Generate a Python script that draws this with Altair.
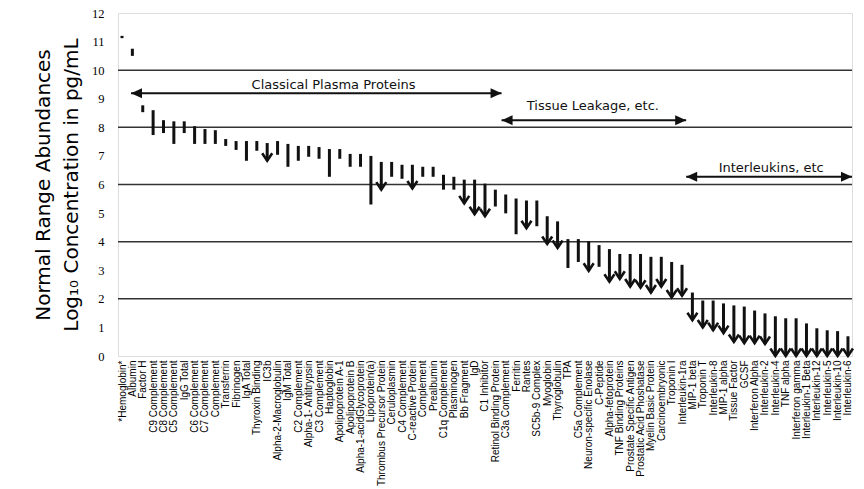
import json
import altair as alt
import pandas as pd

names = [
    "*Hemoglobin*", "Albumin", "Factor H", "C9 Complement", "C8 Complement",
    "C5 Complement", "IgG Total", "C6 Complement", "C7 Complement", "Complement",
    "Transferrin", "Fibrinogen", "IgA Total", "Thyroxin Binding", "IC3b",
    "Alpha-2-Macroglobulin", "IgM Total", "C2 Complement", "Alpha-1- Antitrypsin",
    "C3 Complement", "Haptoglobin", "Apolipoprotein A-1", "Apolipoprotein B",
    "Alpha-1-acidGlycoprotein", "Lipoprotein(a)", "Thrombus Precursor Protein",
    "Ceruloplasmin", "C4 Complement", "C-reactive Protein", "Complement",
    "Prealbumin", "C1q Complement", "Plasminogen", "Bb Fragment", "IgD",
    "C1 Inhibitor", "Retinol Binding Protein", "C3a Complement", "Ferritin",
    "Rantes", "SC5b-9 Complex", "Myoglobin", "Thyroglobulin", "TPA",
    "C5a Complement", "Neuron-specific Enolase", "C-Peptide", "Alpha-fetoprotein",
    "TNF Binding Proteins", "Prostate Specific Antigen", "Prostatic Acid Phoshatase",
    "Myelin Basic Protein", "Carcinoembryonic", "Troponin I", "Interleukin-1ra",
    "MIP-1 beta", "Troponin T", "Interleukin-8", "MIP-1 alpha", "Tissue Factor",
    "GCSF", "Interferon Alpha", "Interleukin-2", "Interleukin-4", "TNF alpha",
    "Interferon gamma", "Interleukin-1 Beta", "Interleukin-12", "Interleukin-5",
    "Interleukin-10", "Interleukin-6",
]

tops = [
    11.20, 10.75, 8.77, 8.60, 8.25, 8.21, 8.21, 8.04, 7.94, 7.90,
    7.59, 7.52, 7.52, 7.52, 7.45, 7.52, 7.42, 7.35, 7.35, 7.31,
    7.24, 7.24, 7.07, 7.07, 7.00, 6.79, 6.79, 6.69, 6.69, 6.62,
    6.62, 6.34, 6.27, 6.17, 6.17, 6.03, 5.82, 5.65, 5.51, 5.44,
    5.44, 4.89, 4.71, 4.09, 4.09, 4.02, 3.88, 3.74, 3.57, 3.57,
    3.57, 3.47, 3.47, 3.29, 3.19, 2.22, 1.94, 1.94, 1.84, 1.77,
    1.73, 1.59, 1.49, 1.39, 1.32, 1.32, 1.14, 0.97, 0.90, 0.87,
    0.69,
]

bottoms = [
    11.12, 10.50, 8.53, 7.73, 7.80, 7.42, 7.80, 7.42, 7.42, 7.42,
    7.35, 7.21, 6.83, 7.18, 6.83, 7.04, 6.62, 6.83, 6.97, 6.90,
    6.27, 6.90, 6.62, 6.62, 5.30, 5.82, 6.27, 6.20, 5.86, 6.27,
    6.27, 5.82, 5.82, 5.34, 4.96, 4.89, 5.23, 4.99, 4.26, 4.47,
    4.54, 3.92, 3.78, 3.08, 3.29, 2.98, 3.12, 2.60, 2.70, 2.43,
    2.39, 2.22, 2.43, 2.05, 2.11, 1.25, 1.00, 0.90, 0.80, 0.49,
    0.45, 0.45, 0.42, 0.00, 0.00, 0.00, 0.00, 0.00, 0.00, 0.00,
    0.00,
]

arrows = [
    0, 0, 0, 0, 0, 0, 0, 0, 0, 0,
    0, 0, 0, 0, 1, 0, 0, 0, 0, 0,
    0, 0, 0, 0, 0, 1, 0, 0, 1, 0,
    0, 0, 0, 1, 1, 1, 0, 0, 0, 1,
    0, 1, 1, 0, 0, 1, 0, 1, 1, 1,
    1, 1, 1, 1, 1, 1, 1, 1, 1, 1,
    1, 1, 1, 1, 1, 1, 1, 1, 1, 1,
    1,
]

grid_values = [2, 4, 6, 8, 10]

group_labels = ["Classical Plasma Proteins", "Tissue Leakage, etc.", "Interleukins, etc"]
group_start = [0.87, 36.6, 54.4]
group_end = [36.6, 54.4, 70.39]
group_line_y = [9.19, 8.25, 6.27]
group_text_x = [20.4, 45.4, 62.6]
group_text_y = [9.48, 8.74, 6.56]

df = pd.DataFrame({
    "idx": list(range(len(names))),
    "name": names,
    "top": tops,
    "bottom": bottoms,
    "arrow": arrows,
})
df_arrow = df[df["arrow"] == 1]
df_grid = pd.DataFrame({"g": grid_values})
df_groups = pd.DataFrame({
    "label": group_labels,
    "x0": group_start,
    "x1": group_end,
    "yl": group_line_y,
    "tx": group_text_x,
    "ty": group_text_y,
})

label_expr = "[" + ",".join(json.dumps(n) for n in names) + "][datum.value]"

x_scale = alt.Scale(domain=[-0.386, 70.39], nice=False, zero=False)
y_scale = alt.Scale(domain=[0, 12], nice=False)

x_axis = alt.Axis(
    values=list(range(len(names))), labelExpr=label_expr, labelAngle=-90,
    labelAlign="right", labelBaseline="middle",
    labelFont="Liberation Sans", labelFontSize=10, labelColor="black",
    labelPadding=4, labelOverlap=False, labelBound=False, labelFlush=False,
    ticks=False, domain=False, grid=False, title=None,
)
y_axis = alt.Axis(
    values=list(range(13)), labelFont="Liberation Serif", labelFontSize=12.5,
    labelColor="black", labelPadding=14, ticks=False, domain=False, grid=False,
    title=["Normal Range Abundances", "Log₁₀ Concentration in pg/mL"],
    titleFont="DejaVu Sans", titleFontSize=20, titleFontWeight="normal",
    titleColor="black", titlePadding=10, titleLineHeight=28,
)

def X(field):
    return alt.X(field, type="quantitative", scale=x_scale, axis=x_axis)

def Y(field):
    return alt.Y(field, type="quantitative", scale=y_scale, axis=y_axis)

grid = alt.Chart(df_grid).mark_rule(color="#333333", strokeWidth=1.5).encode(
    y=Y("g")
)

bars = alt.Chart(df).mark_rule(color="#111111", strokeWidth=3).encode(
    x=X("idx"), y=Y("top"), y2="bottom"
)

chevron = "M-1,-1.5L0,0L1,-1.5"
heads = alt.Chart(df_arrow).mark_point(
    shape=chevron, filled=False, size=100, strokeWidth=2.6,
    color="#111111", opacity=1,
).encode(x=X("idx"), y=Y("bottom"))

g_lines = alt.Chart(df_groups).mark_rule(color="#111111", strokeWidth=2).encode(
    x=X("x0"), x2="x1", y=Y("yl")
)
left_tri = alt.Chart(df_groups).mark_point(
    shape="M0,0L2,-0.9L2,0.9Z", filled=True, size=121, color="#111111", opacity=1,
).encode(x=X("x0"), y=Y("yl"))
right_tri = alt.Chart(df_groups).mark_point(
    shape="M0,0L-2,-0.9L-2,0.9Z", filled=True, size=121, color="#111111", opacity=1,
).encode(x=X("x1"), y=Y("yl"))
g_text = alt.Chart(df_groups).mark_text(
    font="DejaVu Sans", fontSize=13, color="#111111", align="center", baseline="middle",
).encode(x=X("tx"), y=Y("ty"), text="label:N")

chart = alt.layer(grid, bars, heads, g_lines, left_tri, right_tri, g_text).properties(
    width=734, height=343,
    autosize=alt.AutoSizeParams(type="none"),
    padding={"left": 110, "top": 5, "right": 4, "bottom": 130},
).configure_view(stroke="#111111", strokeWidth=1.5).configure(background="white")

chart.save("out.html", embed_options={"renderer": "svg", "actions": False})
